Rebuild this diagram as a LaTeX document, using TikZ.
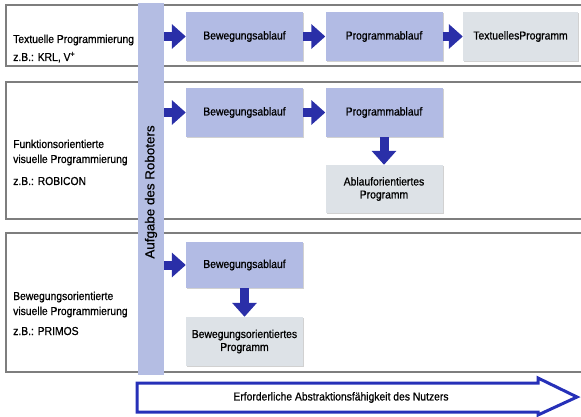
\documentclass[tikz,border=0pt]{standalone}
\usepackage{fontspec}
\setmainfont{Liberation Sans}[FakeStretch=0.9, FakeBold=0.7]
\newfontfamily\vertfont{Liberation Sans}[FakeStretch=1.03, FakeBold=0.7]
\usetikzlibrary{arrows.meta,shadows}

\definecolor{rowgray}{HTML}{7E7E7E}
\definecolor{boxblue}{HTML}{B2BBE4}
\definecolor{boxgrey}{HTML}{DDE2E7}
\definecolor{barblue}{HTML}{B4BDE3}
\definecolor{arrowblue}{HTML}{2A2FA8}
\definecolor{outlineblue}{HTML}{2630B8}

\tikzset{
  rowframe/.style={draw=rowgray, line width=1.6pt},
  stepbox/.style={fill=boxblue, minimum width=117pt, minimum height=49pt,
    inner sep=2pt, align=center, font=\fontsize{11.5}{13}\selectfont,
    drop shadow={shadow xshift=1.2pt, shadow yshift=-1.2pt, fill=black, opacity=0.18}},
  resultbox/.style={stepbox, fill=boxgrey},
  flowarrow/.style={draw=arrowblue, line width=9pt,
    -{Triangle[length=14pt, width=24pt]}},
  labeltext/.style={anchor=base west, inner sep=0pt,
    font=\fontsize{11.5}{13}\selectfont},
}

\begin{document}
\begin{tikzpicture}[x=1pt, y=-1pt]
\useasboundingbox (0,0) rectangle (581,417);

% frames of the three programming approaches
\draw[rowframe] (6,5) rectangle (586,66);
\draw[rowframe] (6,82) rectangle (586,219);
\draw[rowframe] (6,233) rectangle (586,372);

% vertical bar: the robot's task
\node[fill=barblue, minimum width=26pt, minimum height=372pt, inner sep=0pt]
  (bar) at (151,189) {};
\node[rotate=90, font=\vertfont\fontsize{13}{15}\selectfont] (bartext) at (151,192)
  {Aufgabe des Roboters};

% row labels
\node[labeltext] (l1a) at (13,43) {Textuelle Programmierung};
\node[labeltext] (l1b) at (13,61) {z.B.: KRL, V\textsuperscript{+}};
\node[labeltext] (l2a) at (13,148) {Funktionsorientierte};
\node[labeltext] (l2b) at (13,163) {visuelle Programmierung};
\node[labeltext] (l2c) at (13,185) {z.B.: ROBICON};
\node[labeltext] (l3a) at (13,300) {Bewegungsorientierte};
\node[labeltext] (l3b) at (13,315) {visuelle Programmierung};
\node[labeltext] (l3c) at (13,335) {z.B.: PRIMOS};

% row 1: textual programming
\node[stepbox] (b1) at (244.5,36.5) {Bewegungsablauf};
\node[stepbox] (p1) at (384,36.5) {Programmablauf};
\node[resultbox, minimum width=115pt] (t1) at (520.5,36.5) {TextuellesProgramm};

% row 2: function-oriented visual programming
\node[stepbox] (b2) at (244.5,112.5) {Bewegungsablauf};
\node[stepbox] (p2) at (384,112.5) {Programmablauf};
\node[resultbox, minimum height=48pt] (a2) at (384,189) {Ablauforientiertes\\Programm};

% row 3: motion-oriented visual programming
\node[stepbox, minimum height=46pt] (b3) at (244.5,265) {Bewegungsablauf};
\node[resultbox] (m3) at (244.5,341.5) {Bewegungsorientiertes\\Programm};

% connectors
\draw[flowarrow] (bar.east |- b1.west) -- (b1.west);
\draw[flowarrow] (b1) -- (p1);
\draw[flowarrow] (p1) -- (t1);
\draw[flowarrow] (bar.east |- b2.west) -- (b2.west);
\draw[flowarrow] (b2) -- (p2);
\draw[flowarrow] (p2) -- (a2);
\draw[flowarrow] (bar.east |- b3.west) -- (b3.west);
\draw[flowarrow] (b3) -- (m3);

% required abstraction ability of the user
\draw[outlineblue, line width=3pt, fill=white, line join=miter]
  (137,383) -- (538,383) -- (538,378) -- (577,397) -- (538,415) -- (538,412)
  -- (137,412) -- cycle;
\node[font=\fontsize{11.5}{13}\selectfont] (abs) at (341,397.5)
  {Erforderliche Abstraktionsfähigkeit des Nutzers};
\end{tikzpicture}
\end{document}
